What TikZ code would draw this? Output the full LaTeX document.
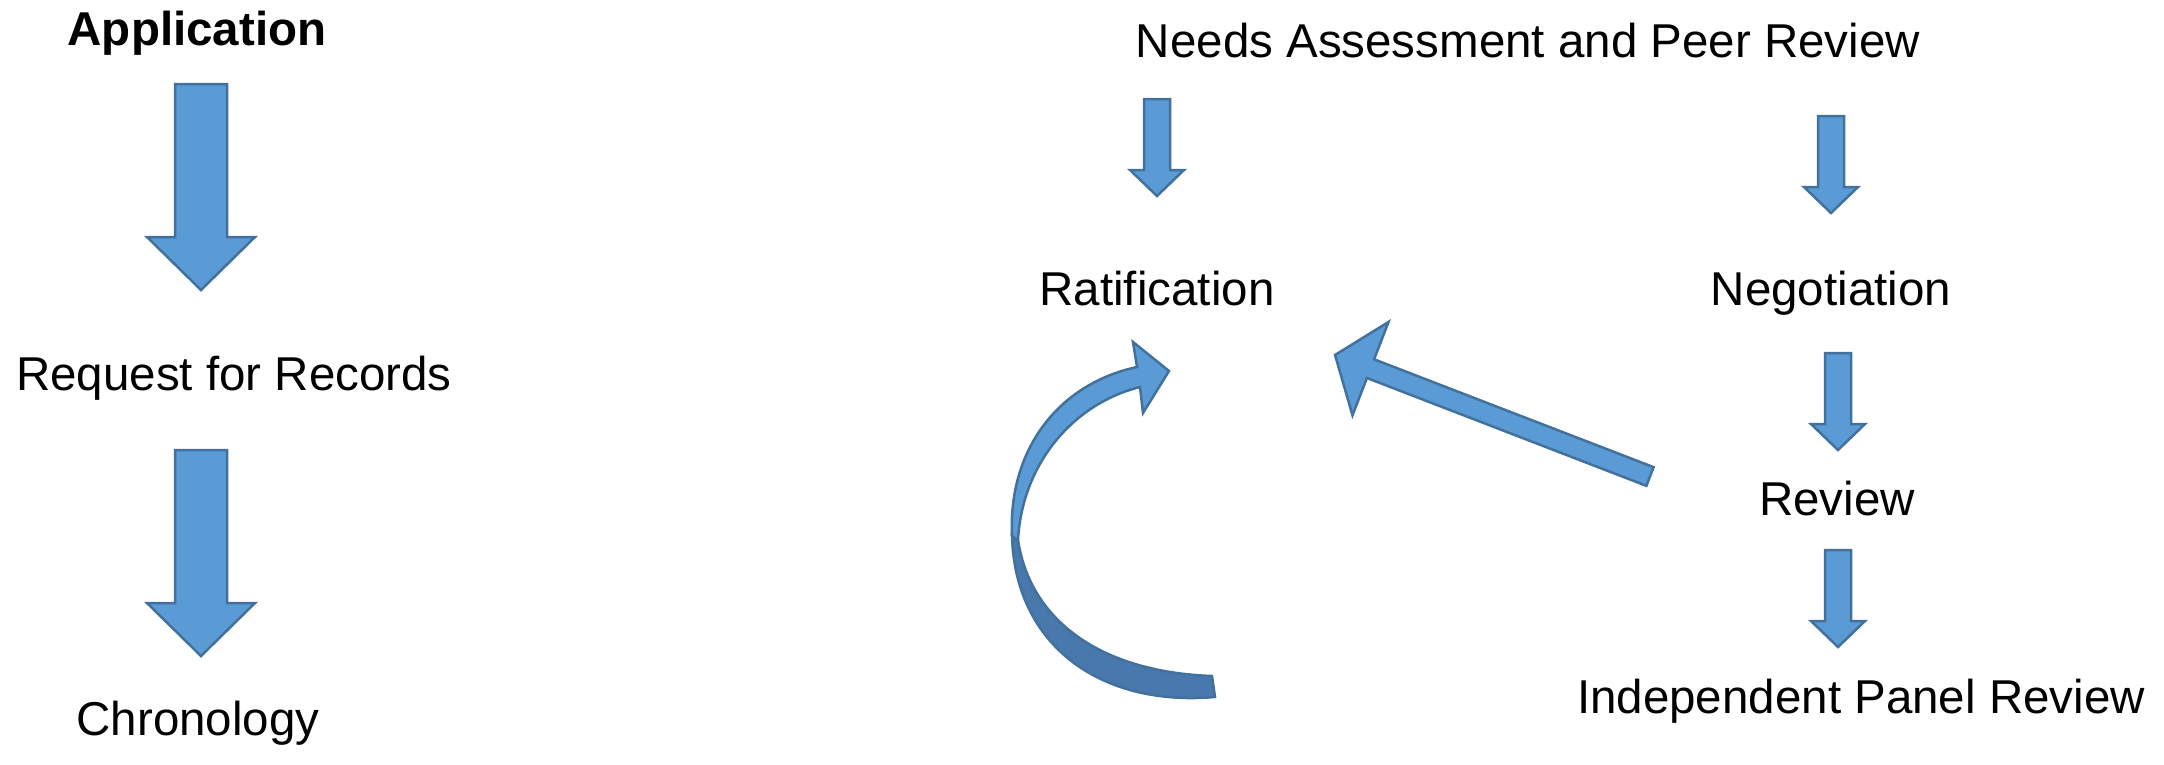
\documentclass[tikz,border=0pt]{standalone}
\usepackage{fontspec}
\setmainfont{Liberation Sans}
\usetikzlibrary{arrows,shapes}
\definecolor{arrowblue}{HTML}{5B9BD5}
\definecolor{arrowline}{HTML}{41719C}
\definecolor{arrowback}{HTML}{4878AC}
\tikzstyle{step label}=[anchor=base,inner sep=0pt,font=\fontsize{47.5}{57}\selectfont]
\tikzstyle{arrowbody}=[fill=arrowblue,draw=arrowline,line width=2.5,line join=miter]

% block arrow along local x: length, head length, half shaft, half head
\newcommand{\blockarrow}[6]{%
  \begin{scope}[shift={#1},rotate=#2]
    \path[arrowbody] (0,-#5) -- (#3-#4,-#5) -- (#3-#4,-#6) -- (#3,0)
      -- (#3-#4,#6) -- (#3-#4,#5) -- (0,#5) -- cycle;
  \end{scope}}

\begin{document}
\begin{tikzpicture}[x=1pt,y=-1pt]
    \useasboundingbox (0,0) rectangle (2164,764);

    % left column
    \node[step label,font=\fontsize{47.5}{57}\selectfont\bfseries] (app) at (197,45) {Application};
    \foreach \x/\y/\name/\txt in {234/390/req/Request for Records, 198/735/chron/Chronology}
        \node[step label] (\name) at (\x,\y) {\txt};

    \blockarrow{(201,84)}{-90}{206}{53}{26}{54}
    \blockarrow{(201,450)}{-90}{206}{53}{26}{54}

    % right part
    \foreach \x/\y/\name/\txt in {1528/57/needs/Needs Assessment and Peer Review,
                                 1157/305/rat/Ratification,
                                 1831/305/neg/Negotiation,
                                 1837/515/rev/Review,
                                 1861/713/ipr/Independent Panel Review}
        \node[step label] (\name) at (\x,\y) {\txt};

    \foreach \x/\y in {1157/99, 1831/116, 1838/353, 1838/550}
        {\blockarrow{(\x,\y)}{-90}{97}{26}{13}{27}}

    % back from review to ratification
    \blockarrow{(1650,476.5)}{158.9}{337.6}{38}{10}{50}

    % curved arrow, back side first
    \path[arrowbody,fill=arrowback] (1012,536) .. controls (1015,645) and (1100,707) .. (1215,697)
        -- (1212,676) .. controls (1100,672) and (1030,620) .. (1018,540) -- cycle;
    \path[arrowbody] (1012,536) .. controls (1008,450) and (1058,384) .. (1137,367)
        -- (1133,342) -- (1169,371) -- (1143,413) -- (1140,387)
        .. controls (1072,404) and (1022,465) .. (1018,540) -- cycle;

\end{tikzpicture}
\end{document}
